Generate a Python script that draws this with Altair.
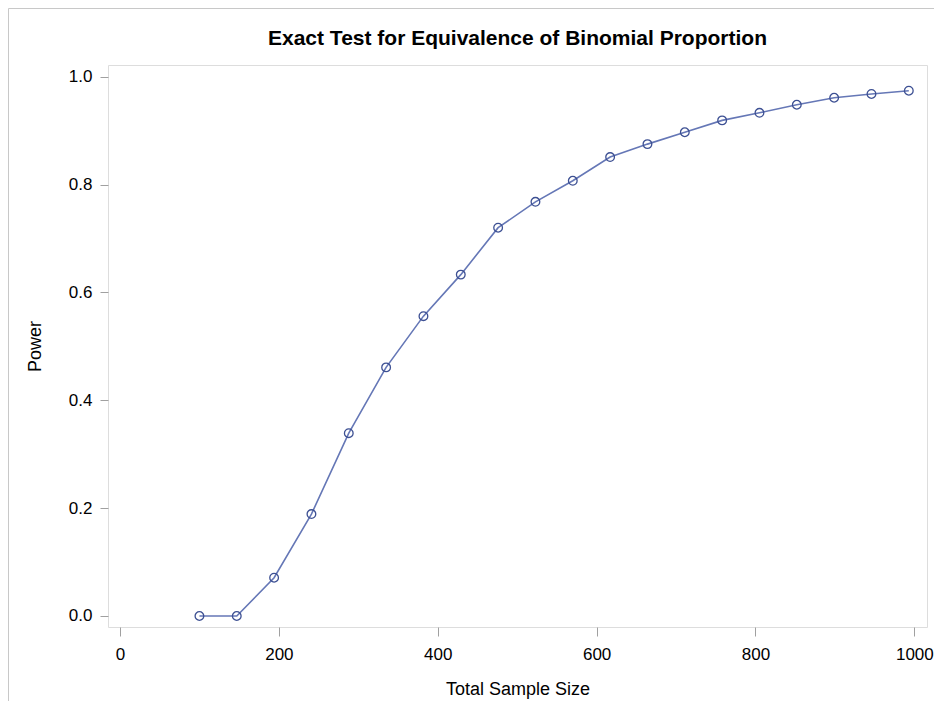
import altair as alt
import pandas as pd

# Data
sample_size = [100, 147, 194, 241, 288, 335, 382, 429, 476, 523,
               570, 617, 664, 711, 758, 805, 852, 899, 946, 993]
power = [0.000, 0.000, 0.071, 0.189, 0.339, 0.461, 0.556, 0.633, 0.720, 0.768,
         0.807, 0.851, 0.875, 0.897, 0.919, 0.933, 0.948, 0.961, 0.968, 0.974]
x_ticks = [0, 200, 400, 600, 800, 1000]
y_ticks = [0.0, 0.2, 0.4, 0.6, 0.8, 1.0]
title_text = "Exact Test for Equivalence of Binomial Proportion"

df = pd.DataFrame({"n": sample_size, "power": power})

FONT = "Liberation Sans"
x_scale = alt.Scale(domain=[-15.1, 1015.9], nice=False, zero=False)
y_scale = alt.Scale(domain=[-0.0204, 1.0217], nice=False, zero=False)

x_enc = alt.X("n:Q", scale=x_scale, axis=alt.Axis(
    title="Total Sample Size", values=x_ticks, format="d", grid=False, domain=False,
    tickSize=9, tickColor="#a0a0a0", labelPadding=10, labelFontSize=17,
    labelFont=FONT, labelColor="#000000", titleFont=FONT, titleFontSize=18,
    titleFontWeight="normal", titleColor="#000000", titlePadding=18))
y_enc = alt.Y("power:Q", scale=y_scale, axis=alt.Axis(
    title="Power", values=y_ticks, format=".1f", grid=False, domain=False,
    tickSize=8, tickColor="#a0a0a0", labelPadding=8, labelFontSize=17,
    labelFont=FONT, labelColor="#000000", titleFont=FONT, titleFontSize=18,
    titleFontWeight="normal", titleColor="#000000", titlePadding=24))

base = alt.Chart(df)
line = base.mark_line(color="#6577b6", strokeWidth=1.6).encode(x=x_enc, y=y_enc)
pts = base.mark_point(shape="circle", filled=False, size=75, strokeWidth=1.3,
                      color="#3d5093", opacity=1).encode(x="n:Q", y="power:Q")

one = df.head(1)
# outer page border (left and top lines)
border_left = alt.Chart(one).mark_rule(color="#c8c8c8", strokeWidth=1).encode(
    x=alt.value(-99.5), y=alt.value(-56.5), y2=alt.value(700))
border_top = alt.Chart(one).mark_rule(color="#c8c8c8", strokeWidth=1).encode(
    x=alt.value(-99.5), x2=alt.value(830), y=alt.value(-56.5))
# plot title
title = alt.Chart(one).mark_text(font=FONT, fontSize=21, fontWeight="bold",
                                 color="#000000", align="center",
                                 baseline="alphabetic").encode(
    x=alt.value(409.5), y=alt.value(-20), text=alt.value(title_text))

chart = alt.layer(border_left, border_top, title, line, pts).properties(
    width=819, height=562,
    autosize=alt.AutoSizeParams(type="none"),
    padding={"left": 100, "top": 57, "right": 7, "bottom": 74},
).configure_view(stroke="#a0a0a0", strokeWidth=1).configure(background="white")

chart.save("out.html", embed_options={"renderer": "svg", "actions": False})
